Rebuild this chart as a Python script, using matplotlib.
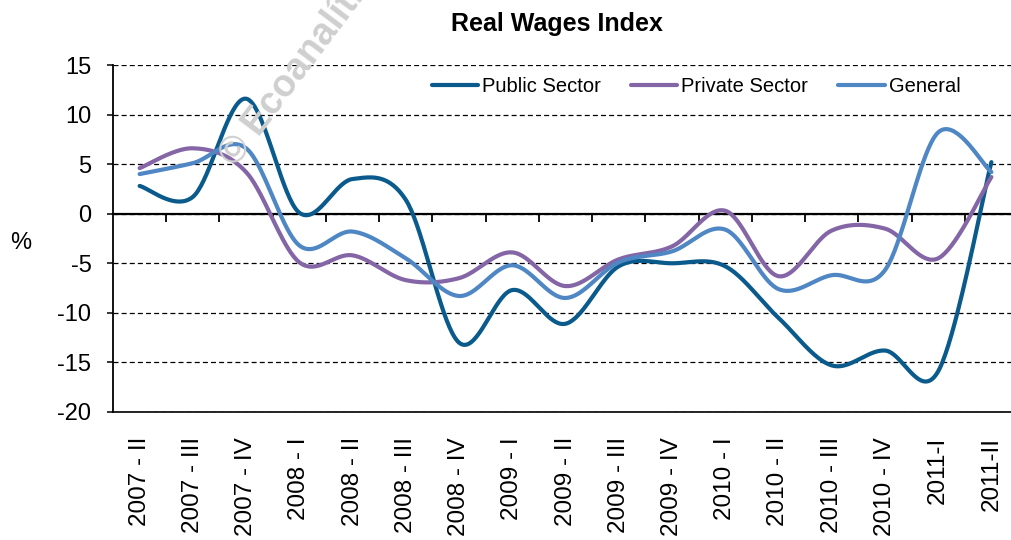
import numpy as np
import matplotlib
matplotlib.use("Agg")
import matplotlib.pyplot as plt

plt.rcParams['font.family'] = ['Liberation Sans', 'DejaVu Sans']
plt.rcParams['axes.unicode_minus'] = False

categories = ["2007 - II", "2007 - III", "2007 - IV", "2008 - I", "2008 - II", "2008 - III",
              "2008 - IV", "2009 - I", "2009 - II", "2009 - III", "2009 - IV", "2010 - I",
              "2010 - II", "2010 - III", "2010 - IV", "2011-I", "2011-II"]
public = [2.8, 1.7, 11.6, 0.1, 3.5, 1.4, -13.0, -7.7, -11.1, -5.3, -5.0, -5.3,
          -10.5, -15.3, -13.8, -15.9, 5.2]
private = [4.6, 6.6, 4.2, -4.9, -4.2, -6.7, -6.5, -3.9, -7.3, -4.6, -3.3, 0.3,
           -6.3, -1.7, -1.5, -4.5, 3.7]
general = [4.0, 5.1, 6.6, -3.2, -1.8, -4.5, -8.3, -5.2, -8.5, -4.9, -3.8, -1.6,
           -7.6, -6.2, -5.7, 8.2, 4.2]
series_names = ["Public Sector", "Private Sector", "General"]
colors = ["#0A5A8C", "#8466A6", "#4F86C4"]
yticks = [-20, -15, -10, -5, 0, 5, 10, 15]


def smooth(xs, ys, steps=40):
    """Excel-like smoothed line (Catmull-Rom Bezier)."""
    P = np.column_stack([xs, ys]).astype(float)
    n = len(P)
    ext = np.vstack([P[0], P, P[-1]])
    out = []
    t = np.linspace(0, 1, steps)[:, None]
    for i in range(n - 1):
        p0, p1, p2, p3 = ext[i], ext[i + 1], ext[i + 2], ext[i + 3]
        b1 = p1 + (p2 - p0) / 6.0
        b2 = p2 - (p3 - p1) / 6.0
        seg = ((1 - t) ** 3) * p1 + 3 * ((1 - t) ** 2) * t * b1 + 3 * (1 - t) * t ** 2 * b2 + t ** 3 * p2
        out.append(seg if i == 0 else seg[1:])
    c = np.vstack(out)
    return c[:, 0], c[:, 1]


W, H = 1011, 540
fig = plt.figure(figsize=(W / 100, H / 100), dpi=100)
ax = fig.add_axes([113 / W, 1 - 412 / H, (1018 - 113) / W, (412 - 65) / H])

n = len(categories)
x = np.arange(n)
ax.set_xlim(-0.5, n - 0.5)
ax.set_ylim(-20, 15)

# gridlines
ax.set_yticks(yticks)
ax.yaxis.grid(True, color='black', linestyle=(0, (4, 2.5)), linewidth=0.9)
ax.set_axisbelow(True)

lines = []
for vals, name, col in zip([public, private, general], series_names, colors):
    sx, sy = smooth(x, vals)
    ln, = ax.plot(sx, sy, color=col, linewidth=3.0, label=name, solid_capstyle='round', zorder=3)
    lines.append(ln)

# spines
for s in ['top', 'right']:
    ax.spines[s].set_visible(False)
ax.spines['left'].set_linewidth(1.3)
ax.spines['bottom'].set_position(('data', 0))
ax.spines['bottom'].set_linewidth(1.6)
ax.spines['bottom'].set_zorder(2)

# ticks on the zero axis: between categories
ax.set_xticks(np.arange(n - 1) + 0.5)
ax.tick_params(axis='x', direction='out', length=6, width=1.3, labelbottom=False)
ax.tick_params(axis='y', direction='out', length=4.5, width=1.1, pad=11, labelsize=17)

# category labels along the bottom edge
sec = ax.secondary_xaxis('bottom')
sec.set_xticks(x)
sec.set_xticklabels(categories, rotation=90, fontsize=17.5, va='top')
sec.tick_params(length=0, pad=18)
sec.spines['bottom'].set_linewidth(1.2)

fig.text(21 / W, 1 - 243 / H, "%", fontsize=17, ha='center', va='center')
fig.text(557 / W, 1 - 24 / H, "Real Wages Index", fontsize=18, fontweight='bold',
         ha='center', va='center')

fig.text(236 / W, 1 - 168 / H, "© Ecoanalítico", fontsize=27, fontweight='bold',
         color='#cfcfcf', rotation=53, rotation_mode='anchor', ha='left', va='baseline',
         zorder=0)

fig.legend(handles=lines, loc='center', bbox_to_anchor=((434 + 958) / 2 / W, 1 - 87 / H),
           ncol=3, frameon=False, fontsize=14.5, handlelength=2.3, handletextpad=0.2,
           columnspacing=1.5)

fig.savefig("out.png", dpi=100)
